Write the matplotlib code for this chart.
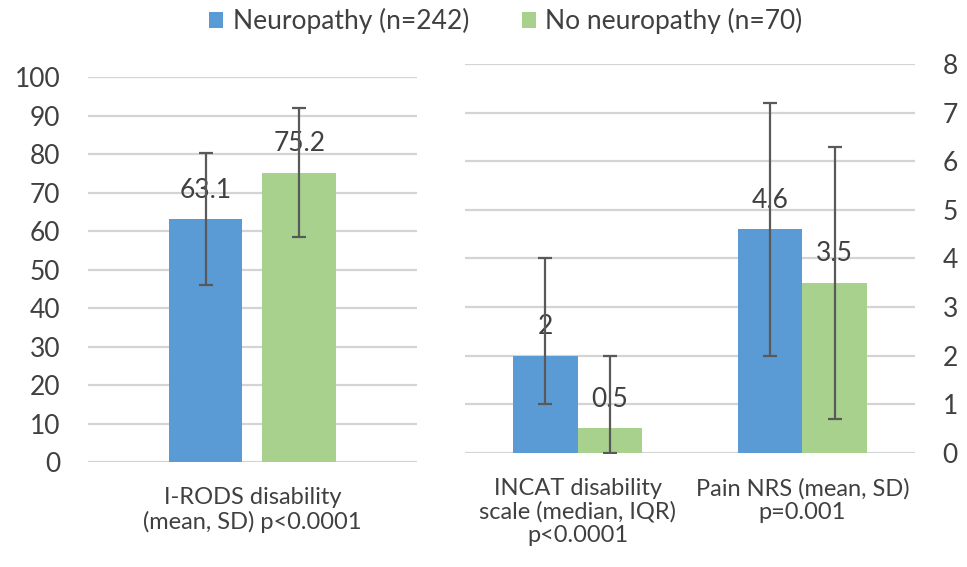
import matplotlib
matplotlib.use('Agg')
import matplotlib.pyplot as plt
from matplotlib.patches import Patch

# group summary values
groups = ['Neuropathy (n=242)', 'No neuropathy (n=70)']
colors = ['#5b9bd5', '#a9d18e']

# left panel: I-RODS (mean, SD)
left_cats = ['I-RODS disability\n(mean, SD) p<0.0001']
left_neuro = [63.1]
left_no_neuro = [75.2]
left_neuro_sd = [17.2]
left_no_neuro_sd = [16.7]
left_ticks = list(range(0, 101, 10))

# right panel: INCAT (median, IQR) and pain NRS (mean, SD)
right_cats = ['INCAT disability\nscale (median, IQR)\np<0.0001', 'Pain NRS (mean, SD)\np=0.001']
right_neuro = [2, 4.6]
right_no_neuro = [0.5, 3.5]
right_neuro_lo = [1.0, 2.6]
right_neuro_hi = [2.0, 2.6]
right_no_neuro_lo = [0.5, 2.8]
right_no_neuro_hi = [1.5, 2.8]
right_ticks = list(range(0, 9))

plt.rcParams['font.family'] = ['Lato', 'DejaVu Sans']
txt = '#404040'
grid = '#d4d4d4'
ecol = '#595959'

fig = plt.figure(figsize=(9.67, 5.67), dpi=100)


def style(ax, ticks, side):
    for s in ax.spines.values():
        s.set_visible(False)
    ax.set_yticks(ticks)
    ax.set_ylim(ticks[0], ticks[-1])
    ax.yaxis.grid(True, color=grid, lw=1.6)
    ax.set_axisbelow(True)
    ax.tick_params(axis='y', length=0, labelsize=19, colors=txt, pad=20)
    ax.tick_params(axis='x', length=0, labelsize=17, colors=txt, pad=18)
    if side == 'right':
        ax.yaxis.tick_right()
    for lab in ax.get_xticklabels():
        lab.set_linespacing(1.15)


def draw(ax, xs, off, w, vals, lo, hi, color):
    pos = [x + off for x in xs]
    ax.bar(pos, vals, width=w, color=color, zorder=2)
    ax.errorbar(pos, vals, yerr=[lo, hi], fmt='none', ecolor=ecol,
                elinewidth=1.6, capsize=5, capthick=1.6, zorder=4)
    for p, v in zip(pos, vals):
        ax.annotate(f'{v:g}', (p, v), xytext=(0, 21), textcoords='offset points',
                    ha='center', va='center', fontsize=19, color=txt, zorder=3)


# left panel
ax1 = fig.add_axes([0.091, 0.185, 0.340, 0.679])
xl = list(range(len(left_cats)))
draw(ax1, xl, -0.285, 0.44, left_neuro, left_neuro_sd, left_neuro_sd, colors[0])
draw(ax1, xl, 0.285, 0.45, left_no_neuro, left_no_neuro_sd, left_no_neuro_sd, colors[1])
ax1.set_xlim(-1, 1)
ax1.set_xticks(xl)
ax1.set_xticklabels(left_cats)
style(ax1, left_ticks, 'left')

# right panel
ax2 = fig.add_axes([0.481, 0.2016, 0.465, 0.685])
xr = list(range(len(right_cats)))
draw(ax2, xr, -0.143, 0.286, right_neuro, right_neuro_lo, right_neuro_hi, colors[0])
draw(ax2, xr, 0.143, 0.286, right_no_neuro, right_no_neuro_lo, right_no_neuro_hi, colors[1])
ax2.set_xlim(-0.5, 1.5)
ax2.set_xticks(xr)
ax2.set_xticklabels(right_cats)
style(ax2, right_ticks, 'right')

handles = [Patch(facecolor=c, edgecolor='none') for c in colors]
fig.legend(handles, groups, loc='center', bbox_to_anchor=(0.523, 0.963), ncol=2,
           frameon=False, fontsize=19, labelcolor=txt, handlelength=0.55,
           handleheight=0.55, handletextpad=0.35, columnspacing=2.0)

fig.savefig('out.png', dpi=100, facecolor='white')
